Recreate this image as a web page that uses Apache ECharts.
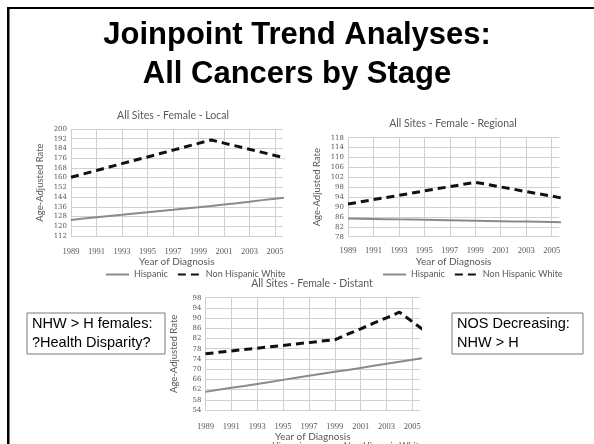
<!DOCTYPE html>
<html>
<head>
<meta charset="utf-8">
<script src="https://cdn.jsdelivr.net/npm/echarts@6/dist/echarts.min.js"></script>
<style>
  html, body { margin: 0; padding: 0; background: #fff; }
  #chart { width: 594px; height: 444px; }
</style>
</head>
<body>
<div id="chart"></div>
<script>
  // years 1989..2006 (the plots are cut off a little after 2005)
  var years = [1989, 1990, 1991, 1992, 1993, 1994, 1995, 1996, 1997, 1998, 1999, 2000, 2001, 2002, 2003, 2004, 2005, 2006]

  var localHispanic = [125.2, 126.3, 127.4, 128.4, 129.4, 130.5, 131.5, 132.5, 133.5, 134.6, 135.6, 136.7, 137.9, 139.0, 140.2, 141.5, 142.7, 143.9]
  var localNHW = [160.3, 163.1, 165.9, 168.7, 171.5, 174.3, 177.0, 179.8, 182.6, 185.4, 188.2, 191.0, 188.4, 185.9, 183.3, 180.8, 178.2, 175.7]

  var regionalHispanic = [85.4, 85.3, 85.2, 85.1, 85.0, 84.9, 84.8, 84.7, 84.6, 84.5, 84.4, 84.3, 84.2, 84.1, 84.1, 84.0, 83.9, 83.8]
  var regionalNHW = [91.2, 92.1, 93.0, 93.8, 94.7, 95.6, 96.5, 97.4, 98.2, 99.1, 100.0, 99.1, 98.1, 97.2, 96.2, 95.3, 94.4, 93.4]

  var distantHispanic = [61.1, 61.9, 62.7, 63.4, 64.2, 65.0, 65.8, 66.6, 67.4, 68.2, 69.0, 69.7, 70.5, 71.3, 72.1, 72.9, 73.7, 74.5]
  var distantNHW = [76.0, 76.6, 77.1, 77.7, 78.2, 78.8, 79.3, 79.9, 80.4, 81.0, 81.5, 83.7, 85.8, 88.0, 90.1, 92.3, 88.6, 84.9]

  var localTicks = [112, 120, 128, 136, 144, 152, 160, 168, 176, 184, 192, 200]
  var regionalTicks = [78, 82, 86, 90, 94, 98, 102, 106, 110, 114, 118]
  var distantTicks = [54, 58, 62, 66, 70, 74, 78, 82, 86, 90, 94, 98]
  var yearTicks = [1989, 1991, 1993, 1995, 1997, 1999, 2001, 2003, 2005]

  var seriesNames = ['Hispanic', 'Non Hispanic White']
  var chartTitles = ['All Sites - Female - Local', 'All Sites - Female - Regional', 'All Sites - Female - Distant']

  var gray = '#595959'
  var gridColor = '#cfcfcf'
  var sansFont = 'Lato'

  function pairs(vals) {
    return years.map(function (y, i) { return [y, vals[i]] })
  }

  function xAxisFor(idx, margin, gap) {
    return {
      type: 'value',
      gridIndex: idx,
      min: 1989,
      max: 2005.6,
      name: 'Year of Diagnosis',
      nameLocation: 'middle',
      nameGap: gap,
      nameTextStyle: { color: gray, fontFamily: sansFont, fontSize: 10 },
      axisLine: { show: false },
      axisTick: { show: false, customValues: yearTicks },
      axisLabel: {
        customValues: yearTicks,
        margin: margin,
        color: gray,
        fontFamily: 'Liberation Serif',
        fontSize: 8.5,
        formatter: function (v) { return String(v) }
      },
      splitLine: { show: true, customValues: yearTicks, lineStyle: { color: gridColor, width: 1 } }
    }
  }

  function yAxisFor(idx, ticks, gap) {
    return {
      type: 'value',
      gridIndex: idx,
      min: ticks[0],
      max: ticks[ticks.length - 1],
      name: 'Age-Adjusted Rate',
      nameLocation: 'middle',
      nameGap: gap,
      nameTextStyle: { color: gray, fontFamily: sansFont, fontSize: 9.5 },
      axisLine: { show: false },
      axisTick: { show: false, customValues: ticks },
      axisLabel: {
        customValues: ticks,
        margin: 4,
        color: gray,
        fontFamily: 'DejaVu Serif',
        fontSize: 7
      },
      splitLine: { show: true, customValues: ticks, lineStyle: { color: gridColor, width: 1 } }
    }
  }

  function hispanic(idx, vals) {
    return {
      name: seriesNames[0],
      type: 'line',
      xAxisIndex: idx,
      yAxisIndex: idx,
      symbol: 'none',
      lineStyle: { color: '#8a8a8a', width: 2 },
      itemStyle: { color: '#8a8a8a' },
      data: pairs(vals)
    }
  }

  function nhw(idx, vals) {
    return {
      name: seriesNames[1],
      type: 'line',
      xAxisIndex: idx,
      yAxisIndex: idx,
      symbol: 'none',
      lineStyle: { color: '#111', width: 3, type: [8, 5] },
      itemStyle: { color: '#111' },
      data: pairs(vals)
    }
  }

  function legendAt(left, top) {
    return {
      data: seriesNames,
      left: left,
      top: top,
      itemWidth: 23,
      itemHeight: 8,
      itemGap: 9,
      selectedMode: false,
      itemStyle: { opacity: 0 },
      textStyle: { color: gray, fontFamily: sansFont, fontSize: 9 }
    }
  }

  function boxText(x, y, w, h, text) {
    return [
      { type: 'rect', shape: { x: x, y: y, width: w, height: h }, style: { fill: '#fff', stroke: '#7a7a7a', lineWidth: 1 } },
      { type: 'text', x: x + 5, y: y + 1.5, style: { text: text, font: '14.5px "Liberation Sans"', fill: '#000', lineHeight: 19, verticalAlign: 'top' } }
    ]
  }

  var myChart = echarts.init(document.getElementById('chart'), null, { renderer: 'canvas' })

  var option = {
    animation: false,
    backgroundColor: '#fff',
    grid: [
      { left: 71, top: 129, width: 211.6, height: 107 },
      { left: 348, top: 137.7, width: 211.3, height: 99 },
      { left: 205.5, top: 297.7, width: 214.6, height: 112.3 }
    ],
    xAxis: [xAxisFor(0, 11, 18), xAxisFor(1, 10, 18), xAxisFor(2, 12, 19)],
    yAxis: [yAxisFor(0, localTicks, 26), yAxisFor(1, regionalTicks, 26), yAxisFor(2, distantTicks, 27)],
    legend: [legendAt(100, 265), legendAt(377, 265), legendAt(238, 437)],
    series: [
      hispanic(0, localHispanic), nhw(0, localNHW),
      hispanic(1, regionalHispanic), nhw(1, regionalNHW),
      hispanic(2, distantHispanic), nhw(2, distantNHW)
    ],
    graphic: [
      // slide frame (top and left edges visible)
      { type: 'rect', shape: { x: 7, y: 7, width: 600, height: 2 }, style: { fill: '#000' } },
      { type: 'rect', shape: { x: 7, y: 7, width: 2.5, height: 450 }, style: { fill: '#000' } },
      { type: 'text', x: 297, y: 35, style: { text: 'Joinpoint Trend Analyses:', font: 'bold 31px "Liberation Sans"', fill: '#000', align: 'center', verticalAlign: 'middle' } },
      { type: 'text', x: 297, y: 74, style: { text: 'All Cancers by Stage', font: 'bold 31px "Liberation Sans"', fill: '#000', align: 'center', verticalAlign: 'middle' } },
      { type: 'text', x: 173, y: 116, style: { text: chartTitles[0], font: '10.5px ' + sansFont, fill: gray, align: 'center', verticalAlign: 'middle' } },
      { type: 'text', x: 453, y: 124, style: { text: chartTitles[1], font: '10.5px ' + sansFont, fill: gray, align: 'center', verticalAlign: 'middle' } },
      { type: 'text', x: 312, y: 284, style: { text: chartTitles[2], font: '10.5px ' + sansFont, fill: gray, align: 'center', verticalAlign: 'middle' } }
    ].concat(boxText(27, 313, 138, 41, 'NHW > H females:\n?Health Disparity?'))
     .concat(boxText(452, 313, 131, 41, 'NOS Decreasing:\nNHW > H'))
  }

  myChart.setOption(option)
</script>
</body>
</html>
